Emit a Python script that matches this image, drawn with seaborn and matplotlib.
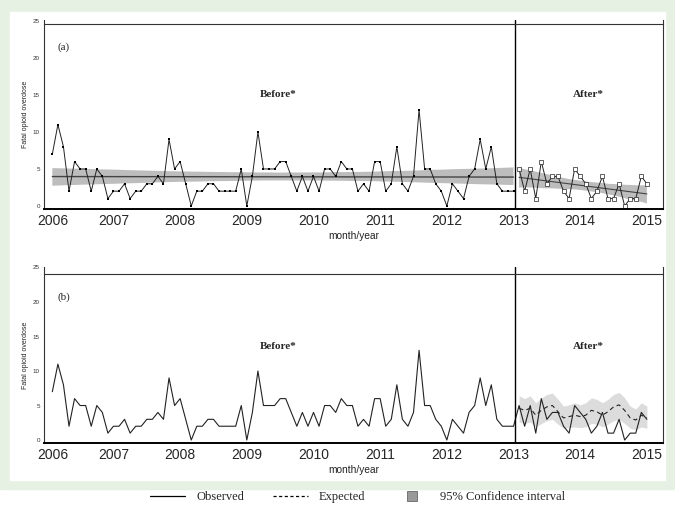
import numpy as np
import pandas as pd
import matplotlib.pyplot as plt
import seaborn as sns
from matplotlib.patches import Rectangle
from matplotlib.lines import Line2D

sns.set_style("white")
plt.rcParams['font.family'] = ['Liberation Sans', 'DejaVu Sans']

# monthly fatal opioid overdoses, Jan 2006 - Dec 2012 (before) and 2013-2014 (after)
before = [7, 11, 8, 2, 6, 5, 5, 2, 5, 4, 1, 2,
          2, 3, 1, 2, 2, 3, 3, 4, 3, 9, 5, 6,
          3, 0, 2, 2, 3, 3, 2, 2, 2, 2, 5, 0,
          4, 10, 5, 5, 5, 6, 6, 4, 2, 4, 2, 4,
          2, 5, 5, 4, 6, 5, 5, 2, 3, 2, 6, 6,
          2, 3, 8, 3, 2, 4, 13, 5, 5, 3, 2, 0,
          3, 2, 1, 4, 5, 9, 5, 8, 3, 2, 2, 2]
after = [5, 2, 5, 1, 6, 3, 4, 4, 2, 1, 5, 4,
         3, 1, 2, 4, 1, 1, 3, 0, 1, 1, 4, 3]
# expected counts (no intervention) and 95% CI for 2013-2014
expected = [4.6, 4.3, 4.6, 3.6, 4.3, 4.8, 5.0, 4.1, 3.2, 3.4, 3.6, 3.4,
            3.6, 4.3, 4.1, 3.6, 4.1, 4.8, 5.1, 4.3, 3.2, 2.9, 3.6, 3.2]
exp_lo = [2.6, 2.4, 2.6, 1.9, 2.4, 2.8, 3.0, 2.3, 1.7, 1.8, 1.9, 1.8,
          1.9, 2.4, 2.3, 1.9, 2.3, 2.8, 3.0, 2.4, 1.7, 1.5, 1.9, 1.7]
exp_hi = [6.4, 6.0, 6.4, 5.4, 6.1, 6.6, 6.8, 5.9, 4.9, 5.1, 5.4, 5.1,
          5.4, 6.1, 5.9, 5.4, 5.9, 6.6, 6.9, 6.1, 4.9, 4.5, 5.4, 4.9]

year_labels = [str(y) for y in range(2006, 2016)]
year_ticks = [1, 12, 24, 36, 48, 60, 72, 84, 96, 108]

df_b = pd.DataFrame({"t": np.arange(1, len(before) + 1), "y": before})
df_a = pd.DataFrame({"t": np.arange(len(before) + 1, len(before) + len(after) + 1),
                     "y": after, "exp": expected, "lo": exp_lo, "hi": exp_hi})
df_all = pd.concat([df_b, df_a[["t", "y"]]])

W, H = 675, 511
fig = plt.figure(figsize=(W / 100, H / 100), dpi=100)
fig.patches.append(Rectangle((0, 22 / H), 1, 1 - 22 / H, transform=fig.transFigure,
                             color='#e6f1e4', zorder=-10))
fig.patches.append(Rectangle((10 / W, 31 / H), 655 / W, 468 / H, transform=fig.transFigure,
                             color='white', zorder=-9))


def style_axes(ax, top):
    ax.set_xlim(-0.5, 110.9)
    ax.set_xticks(year_ticks)
    ax.set_xticklabels(year_labels, fontsize=6.2, color='#222222')
    ax.set_yticks([0, 5, 10, 15, 20, 25])
    ax.tick_params(axis='y', labelsize=4.5, length=2, width=0.6, pad=1, colors='#333333')
    ax.tick_params(axis='x', length=2.2, width=0.8, pad=1.2)
    for s in ax.spines.values():
        s.set_color('#333333')
        s.set_linewidth(0.8)
    ax.spines['bottom'].set_linewidth(1.4)
    ax.spines['bottom'].set_color('black')
    ax.spines['top'].set_position(('data', top))
    ax.set_xlabel('month/year', fontsize=7.3, labelpad=2, color='#222222')
    ax.set_ylabel('Fatal opioid overdose', fontsize=5)
    ax.yaxis.set_label_coords(-0.024, 0.5)
    ax.axvline(84.2, ymin=0, ymax=1, color='black', lw=1.0)


# ---- panel (a)
ax1 = fig.add_axes([44 / W, 1 - 209.3 / H, 619 / W, 189.3 / H])
sns.regplot(data=df_b, x="t", y="y", scatter=False, ci=95, seed=1, ax=ax1,
            color='#444444', line_kws={'lw': 1.0})
sns.regplot(data=df_a, x="t", y="y", scatter=False, ci=95, seed=1, ax=ax1,
            color='#444444', line_kws={'lw': 0.8})
for c in ax1.collections:
    c.set_facecolor('#bdbdbd')
    c.set_alpha(1)
    c.set_edgecolor('none')
sns.lineplot(data=df_b, x="t", y="y", ax=ax1, color='#222222', lw=0.7,
             marker='s', markersize=1.7, markeredgewidth=0, markerfacecolor='black')
sns.lineplot(data=df_a, x="t", y="y", ax=ax1, color='#222222', lw=0.7,
             marker='s', markersize=2.4, markeredgewidth=0.5,
             markerfacecolor='white', markeredgecolor='#222222')
ax1.set_ylim(-0.45, 25.13)
style_axes(ax1, 24.6)
ax1.text(2.0, 21.4, '(a)', fontsize=8, family='Liberation Serif', va='center')
ax1.text(41.6, 15.1, 'Before*', fontsize=8, family='Liberation Serif',
         fontweight='bold', ha='center', va='center')
ax1.text(97.4, 15.1, 'After*', fontsize=8, family='Liberation Serif',
         fontweight='bold', ha='center', va='center')

# ---- panel (b)
ax2 = fig.add_axes([44 / W, 1 - 443 / H, 619 / W, 176 / H])
ax2.fill_between(df_a["t"], df_a["lo"], df_a["hi"], color='#dcdcdc', lw=0)
sns.lineplot(data=df_all, x="t", y="y", ax=ax2, color='#222222', lw=0.8)
sns.lineplot(data=df_a, x="t", y="exp", ax=ax2, color='#222222', lw=0.8,
             linestyle=(0, (4, 3)))
ax2.set_ylim(-0.43, 25.07)
style_axes(ax2, 24.06)
ax2.text(2.0, 20.7, '(b)', fontsize=8, family='Liberation Serif', va='center')
ax2.text(41.6, 13.6, 'Before*', fontsize=8, family='Liberation Serif',
         fontweight='bold', ha='center', va='center')
ax2.text(97.4, 13.6, 'After*', fontsize=8, family='Liberation Serif',
         fontweight='bold', ha='center', va='center')

# ---- legend
handles = [Line2D([], [], color='black', lw=0.9),
           Line2D([], [], color='black', lw=0.9, linestyle=(0, (2.5, 2))),
           Line2D([], [], color='#999999', marker='s', markersize=7, linestyle='none',
                  markeredgecolor='#666666', markeredgewidth=0.6)]
fig.legend(handles, ['Observed', 'Expected', '95% Confidence interval'],
           loc='center', bbox_to_anchor=(0.53, 14 / H), ncol=3, frameon=False,
           prop={'family': 'Liberation Serif', 'size': 9}, handlelength=2.8,
           columnspacing=2.3, handletextpad=0.9)

fig.savefig('out.png', dpi=100)
